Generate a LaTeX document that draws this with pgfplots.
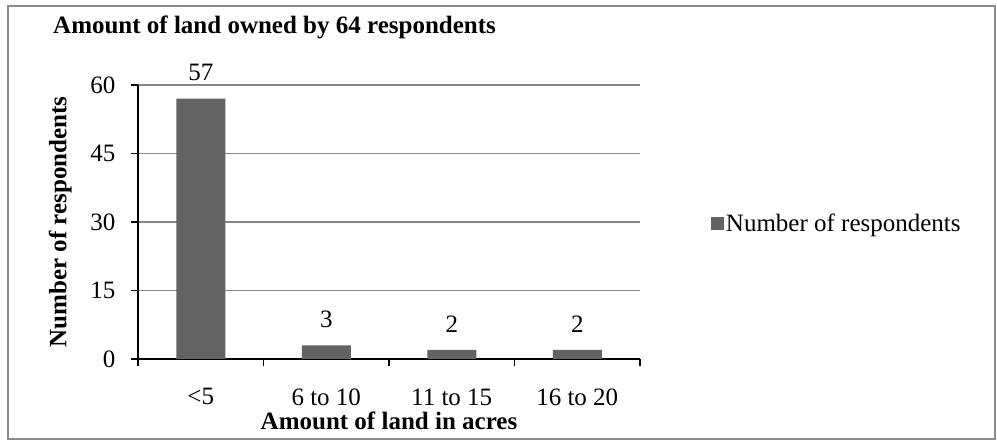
\documentclass[border=0pt]{standalone}
\usepackage{fontspec}
\setmainfont{Liberation Serif}
\usepackage{pgfplots}
\pgfplotsset{compat=1.18}
\definecolor{barfill}{RGB}{99,99,99}
\definecolor{gridc}{RGB}{134,134,134}
\definecolor{framec}{RGB}{140,140,140}
\newcommand{\fs}{\fontsize{25bp}{30bp}\selectfont}

\begin{document}
\begin{tikzpicture}
\useasboundingbox (0,0) rectangle (997bp,442bp);
\draw[framec, line width=1.5bp] (8bp,3bp) rectangle (995bp,436bp);
\node[anchor=base west, font=\fs\bfseries, inner sep=0pt] at (53bp,408bp)
  {Amount of land owned by 64 respondents};
\begin{axis}[
  at={(138bp,83bp)}, anchor=south west,
  scale only axis, width=502bp, height=274bp,
  xmin=-0.5, xmax=3.5, ymin=0, ymax=60,
  axis x line*=bottom, axis y line*=left,
  axis line style={line width=1.5bp, -},
  ytick={0,15,30,45,60},
  xtick={-0.5,0.5,1.5,2.5,3.5},
  xticklabels={,,,,},
  extra x ticks={0,1,2,3},
  extra x tick labels={{<5},{6 to 10},{11 to 15},{16 to 20}},
  extra x tick style={tick style={draw=none}, grid=none,
    xticklabel style={yshift=-19bp}},
  tick align=outside,
  major tick length=7bp,
  tick style={black, line width=1.5bp},
  ymajorgrids,
  grid style={gridc, line width=1.2bp},
  tick label style={font=\fs},
  yticklabel style={xshift=-12bp},
  /pgf/number format/assume math mode=true,
  xlabel={Amount of land in acres},
  xlabel style={font=\fs\bfseries, at={(axis description cs:0.5,-0.259)}, anchor=base},
  ylabel={Number of respondents},
  ylabel style={font=\fs\bfseries, at={(axis description cs:-0.155,0.5)}, anchor=center},
  ybar, bar width=49bp,
  nodes near coords,
  nodes near coords style={font=\fs, black, yshift=14bp},
  legend style={at={(1.141,0.496)}, anchor=west, draw=none, fill=none,
    font=\fs, inner sep=0pt},
  legend image code/.code={\fill[barfill] (0bp,-6.5bp) rectangle (13bp,6.5bp);},
]
\addplot[fill=barfill, draw=none] coordinates {(0,57) (1,3) (2,2) (3,2)};
\addlegendentry{Number of respondents}
\end{axis}
\end{tikzpicture}
\end{document}
